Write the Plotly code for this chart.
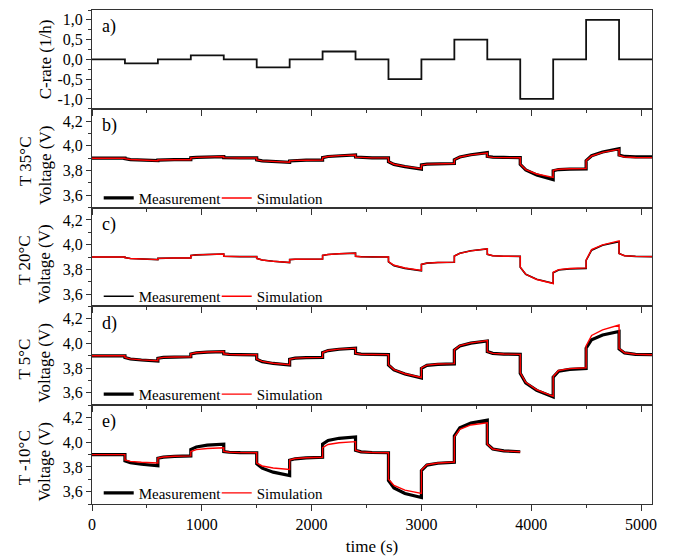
import plotly.graph_objects as go
from plotly.subplots import make_subplots

# ---------------- data ----------------
# C-rate profile (step, value holds until next time)
C_TIME = [0, 300, 600, 900, 1200, 1500, 1800, 2100, 2400, 2700, 3000, 3300, 3600, 3900, 4200, 4500, 4800, 5100]
C_RATE = [0.0, -0.1, 0.0, 0.1, 0.0, -0.2, 0.0, 0.2, 0.0, -0.5, 0.0, 0.5, 0.0, -1.0, 0.0, 1.0, 0.0, 0.0]

# sampling times for voltage curves (4 samples per 300 s step)
TIME = [0, 50, 150, 300, 300, 350, 450, 600, 600, 650, 750, 900, 900, 950, 1050, 1200,
        1200, 1250, 1350, 1500, 1500, 1550, 1650, 1800, 1800, 1850, 1950, 2100,
        2100, 2150, 2250, 2400, 2400, 2450, 2550, 2700, 2700, 2750, 2850, 3000,
        3000, 3050, 3150, 3300, 3300, 3350, 3450, 3600, 3600, 3650, 3750, 3900,
        3900, 3950, 4050, 4200, 4200, 4250, 4350, 4500, 4500, 4550, 4650, 4800,
        4800, 4850, 4950, 5100]
TIME_E = [0, 50, 150, 300, 300, 350, 450, 600, 600, 650, 750, 900, 900, 950, 1050, 1200,
          1200, 1250, 1350, 1500, 1500, 1550, 1650, 1800, 1800, 1850, 1950, 2100,
          2100, 2150, 2250, 2400, 2400, 2450, 2550, 2700, 2700, 2750, 2850, 3000,
          3000, 3050, 3150, 3300, 3300, 3350, 3450, 3600, 3600, 3650, 3750, 3900]

# T 35°C
B_MEAS = [3.900, 3.900, 3.900, 3.900, 3.896, 3.889, 3.884, 3.880, 3.885, 3.887, 3.888, 3.888,
          3.903, 3.907, 3.910, 3.913, 3.905, 3.903, 3.902, 3.902, 3.886, 3.878, 3.873, 3.867,
          3.878, 3.882, 3.884, 3.885, 3.905, 3.914, 3.921, 3.927, 3.909, 3.905, 3.903, 3.903,
          3.872, 3.850, 3.832, 3.812, 3.845, 3.852, 3.855, 3.857, 3.888, 3.910, 3.928, 3.945,
          3.914, 3.908, 3.906, 3.905, 3.850, 3.805, 3.765, 3.727, 3.798, 3.808, 3.812, 3.814,
          3.880, 3.920, 3.950, 3.977, 3.925, 3.914, 3.911, 3.910]
B_SIM = [3.900, 3.900, 3.900, 3.900, 3.896, 3.889, 3.884, 3.880, 3.885, 3.887, 3.888, 3.888,
         3.903, 3.907, 3.910, 3.913, 3.905, 3.903, 3.902, 3.902, 3.886, 3.878, 3.873, 3.868,
         3.878, 3.882, 3.884, 3.885, 3.905, 3.914, 3.921, 3.926, 3.909, 3.905, 3.903, 3.903,
         3.872, 3.851, 3.834, 3.815, 3.845, 3.852, 3.855, 3.857, 3.888, 3.910, 3.927, 3.942,
         3.912, 3.907, 3.905, 3.904, 3.852, 3.808, 3.772, 3.745, 3.802, 3.811, 3.815, 3.817,
         3.880, 3.918, 3.947, 3.972, 3.922, 3.910, 3.906, 3.905]

# T 20°C
C_MEAS = [3.900, 3.900, 3.900, 3.900, 3.895, 3.888, 3.883, 3.879, 3.889, 3.891, 3.892, 3.892,
          3.912, 3.917, 3.921, 3.924, 3.906, 3.904, 3.903, 3.903, 3.889, 3.876, 3.865, 3.855,
          3.879, 3.882, 3.884, 3.884, 3.913, 3.920, 3.926, 3.931, 3.906, 3.902, 3.901, 3.900,
          3.860, 3.830, 3.808, 3.788, 3.840, 3.850, 3.855, 3.858, 3.908, 3.930, 3.950, 3.966,
          3.922, 3.910, 3.906, 3.905, 3.818, 3.760, 3.720, 3.688, 3.772, 3.795, 3.804, 3.808,
          3.872, 3.955, 3.995, 4.024, 3.928, 3.910, 3.905, 3.903]
C_SIM = [3.900, 3.900, 3.900, 3.900, 3.895, 3.888, 3.883, 3.879, 3.889, 3.891, 3.892, 3.892,
         3.912, 3.917, 3.921, 3.924, 3.906, 3.904, 3.903, 3.903, 3.889, 3.876, 3.865, 3.856,
         3.879, 3.882, 3.884, 3.884, 3.913, 3.920, 3.926, 3.931, 3.906, 3.902, 3.901, 3.900,
         3.862, 3.833, 3.811, 3.792, 3.840, 3.850, 3.855, 3.858, 3.908, 3.930, 3.950, 3.966,
         3.922, 3.910, 3.906, 3.905, 3.818, 3.760, 3.718, 3.685, 3.776, 3.798, 3.807, 3.812,
         3.875, 3.960, 3.998, 4.030, 3.928, 3.910, 3.905, 3.903]

# T 5°C
D_MEAS = [3.900, 3.900, 3.900, 3.900, 3.886, 3.874, 3.866, 3.858, 3.880, 3.887, 3.890, 3.892,
          3.915, 3.924, 3.930, 3.934, 3.916, 3.911, 3.909, 3.908, 3.872, 3.853, 3.838, 3.825,
          3.872, 3.881, 3.885, 3.887, 3.926, 3.942, 3.953, 3.961, 3.920, 3.913, 3.911, 3.910,
          3.826, 3.786, 3.752, 3.720, 3.798, 3.822, 3.830, 3.834, 3.947, 3.980, 4.003, 4.020,
          3.934, 3.920, 3.914, 3.912, 3.758, 3.680, 3.620, 3.567, 3.728, 3.775, 3.790, 3.797,
          3.962, 4.030, 4.068, 4.097, 3.955, 3.923, 3.912, 3.909]
D_SIM = [3.900, 3.900, 3.900, 3.900, 3.887, 3.875, 3.867, 3.860, 3.880, 3.887, 3.890, 3.892,
         3.916, 3.925, 3.931, 3.935, 3.916, 3.911, 3.909, 3.908, 3.873, 3.855, 3.840, 3.828,
         3.872, 3.881, 3.885, 3.887, 3.927, 3.943, 3.954, 3.962, 3.920, 3.913, 3.911, 3.910,
         3.828, 3.788, 3.755, 3.724, 3.802, 3.825, 3.833, 3.837, 3.948, 3.982, 4.005, 4.024,
         3.934, 3.920, 3.914, 3.912, 3.762, 3.685, 3.625, 3.572, 3.733, 3.781, 3.796, 3.803,
         3.981, 4.065, 4.110, 4.149, 3.960, 3.925, 3.913, 3.909]

# T -10°C
E_MEAS = [3.900, 3.900, 3.900, 3.900, 3.850, 3.834, 3.822, 3.810, 3.870, 3.880, 3.886, 3.890,
          3.942, 3.962, 3.976, 3.985, 3.925, 3.919, 3.916, 3.915, 3.826, 3.790, 3.758, 3.730,
          3.854, 3.866, 3.874, 3.878, 3.985, 4.015, 4.032, 4.043, 3.935, 3.922, 3.917, 3.915,
          3.690, 3.630, 3.585, 3.552, 3.770, 3.815, 3.830, 3.838, 4.050, 4.118, 4.155, 4.178,
          3.985, 3.945, 3.930, 3.923]
E_SIM = [3.900, 3.900, 3.900, 3.900, 3.856, 3.845, 3.838, 3.832, 3.872, 3.881, 3.887, 3.890,
         3.925, 3.940, 3.949, 3.955, 3.925, 3.919, 3.916, 3.915, 3.832, 3.808, 3.792, 3.780,
         3.856, 3.868, 3.875, 3.878, 3.957, 3.982, 3.996, 4.005, 3.935, 3.922, 3.917, 3.915,
         3.700, 3.650, 3.612, 3.585, 3.775, 3.818, 3.832, 3.840, 4.043, 4.105, 4.140, 4.158,
         3.985, 3.945, 3.930, 3.923]

TEMPS = ["T 35°C", "T 20°C", "T 5°C", "T -10°C"]
PANEL_LABELS = ["a)", "b)", "c)", "d)", "e)"]
CRATE_TICKVALS = [-1.0, -0.5, 0.0, 0.5, 1.0]
CRATE_TICKTEXT = ["-1,0", "-0,5", "0,0", "0,5", "1,0"]
V_TICKVALS = [3.6, 3.8, 4.0, 4.2]
V_TICKTEXT = ["3,6", "3,8", "4,0", "4,2"]
X_TICKVALS = [0, 1000, 2000, 3000, 4000, 5000]

# ---------------- figure ----------------
FONT = "Liberation Serif, Times New Roman, serif"
fig = make_subplots(rows=5, cols=1, shared_xaxes=True, vertical_spacing=0)

fig.add_trace(go.Scatter(x=C_TIME, y=C_RATE, mode="lines", line=dict(color="#111", width=1.8, shape="hv"),
                         showlegend=False), row=1, col=1)

panels = [
    (TIME, B_MEAS, B_SIM, 3.2, "legend"),
    (TIME, C_MEAS, C_SIM, 1.6, "legend2"),
    (TIME, D_MEAS, D_SIM, 3.2, "legend3"),
    (TIME_E, E_MEAS, E_SIM, 3.2, "legend4"),
]
for i, (t, m, s, mw, lg) in enumerate(panels):
    r = i + 2
    fig.add_trace(go.Scatter(x=t, y=m, mode="lines", name="Measurement", legend=lg,
                             line=dict(color="black", width=mw)), row=r, col=1)
    fig.add_trace(go.Scatter(x=t, y=s, mode="lines", name="Simulation", legend=lg,
                             line=dict(color="#ff0000", width=1.4)), row=r, col=1)

axis_common = dict(showline=True, linecolor="#333", linewidth=1, mirror=True, automargin=False,
                   showgrid=False, zeroline=False, ticks="outside", tickcolor="#333",
                   tickfont=dict(family=FONT, size=16, color="black"))

for r in range(1, 6):
    fig.update_xaxes(range=[0, 5100], tickvals=X_TICKVALS, ticklen=6,
                     minor=dict(dtick=500, tick0=0, ticks="outside", ticklen=3, tickcolor="#333"),
                     row=r, col=1, **axis_common)
fig.update_xaxes(showticklabels=True, row=5, col=1,
                 title=dict(text="time (s)", font=dict(family=FONT, size=17, color="black"), standoff=12))

fig.update_yaxes(range=[-1.25, 1.25], tickmode="array", tickvals=CRATE_TICKVALS, ticktext=CRATE_TICKTEXT,
                 ticklen=5, minor=dict(tickmode="array", tickvals=[-1.25, -0.75, -0.25, 0.25, 0.75, 1.25],
                                       ticks="outside", ticklen=3, tickcolor="#333"),
                 row=1, col=1, **axis_common)
for r in range(2, 6):
    fig.update_yaxes(range=[3.5, 4.3], tickmode="array", tickvals=V_TICKVALS, ticktext=V_TICKTEXT,
                     ticklen=5, minor=dict(tickmode="array", tickvals=[3.5, 3.7, 3.9, 4.1, 4.3],
                                           ticks="outside", ticklen=3, tickcolor="#333"),
                     row=r, col=1, **axis_common)

annotations = []
yrefs = ["y domain", "y2 domain", "y3 domain", "y4 domain", "y5 domain"]
for i, lab in enumerate(PANEL_LABELS):
    annotations.append(dict(text=lab, x=0.014, xref="paper", y=0.83, yref=yrefs[i],
                            xanchor="left", yanchor="middle", showarrow=False,
                            font=dict(family=FONT, size=18, color="black")))
annotations.append(dict(text="C-rate (1/h)", x=-0.084, xref="paper", y=0.5, yref=yrefs[0],
                        textangle=-90, xanchor="center", yanchor="middle", showarrow=False,
                        font=dict(family=FONT, size=17, color="black")))
for i, tl in enumerate(TEMPS):
    annotations.append(dict(text=tl, x=-0.12, xref="paper", y=0.47, yref=yrefs[i + 1],
                            textangle=-90, xanchor="center", yanchor="middle", showarrow=False,
                            font=dict(family=FONT, size=17, color="black")))
    annotations.append(dict(text="Voltage (V)", x=-0.084, xref="paper", y=0.43, yref=yrefs[i + 1],
                            textangle=-90, xanchor="center", yanchor="middle", showarrow=False,
                            font=dict(family=FONT, size=17, color="black")))

legend_style = dict(orientation="h", x=0.012, xanchor="left", yanchor="middle",
                    bgcolor="rgba(0,0,0,0)", font=dict(family=FONT, size=15, color="black"),
                    itemwidth=30, tracegroupgap=0, entrywidth=73, entrywidthmode="pixels")
fig.update_layout(
    width=684, height=556,
    margin=dict(l=92, r=32, t=10, b=52),
    plot_bgcolor="white", paper_bgcolor="white",
    separators=",.",
    showlegend=True,
    legend=dict(y=0.619, **legend_style),
    legend2=dict(y=0.420, **legend_style),
    legend3=dict(y=0.222, **legend_style),
    legend4=dict(y=0.022, **legend_style),
    annotations=annotations,
)

fig.write_html("out.html", config={"displayModeBar": False},
               post_script="document.body.style.margin='0';document.body.style.padding='0';")
